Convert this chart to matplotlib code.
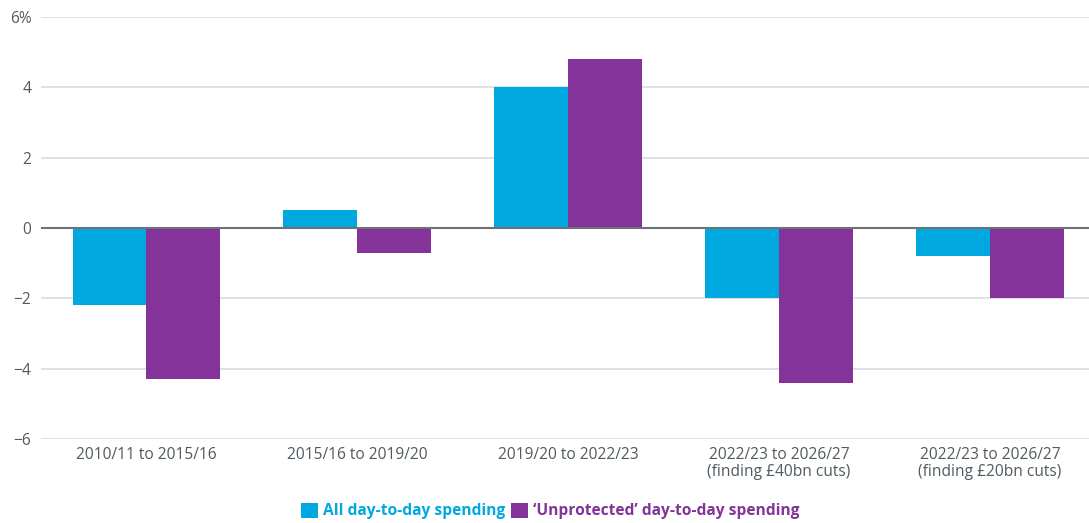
import numpy as np
import matplotlib.pyplot as plt
from matplotlib.ticker import FuncFormatter

plt.rcParams['font.family'] = ['Open Sans', 'DejaVu Sans']

categories = ['2010/11 to 2015/16', '2015/16 to 2019/20', '2019/20 to 2022/23',
              '2022/23 to 2026/27\n(finding £40bn cuts)',
              '2022/23 to 2026/27\n(finding £20bn cuts)']
all_spending = [-2.2, 0.5, 4.0, -2.0, -0.8]
unprotected = [-4.3, -0.7, 4.8, -4.4, -2.0]

blue = '#00a8e0'
purple = '#833399'
grey_text = '#505a5f'

fig = plt.figure(figsize=(10.89, 5.23), dpi=100)
ax = fig.add_axes([41 / 1089, 84 / 523, 1 - 41 / 1089, 422 / 523])

x = np.arange(len(categories))
w = 0.35
ax.bar(x - w / 2, all_spending, w, color=blue, label='All day-to-day spending', zorder=2)
ax.bar(x + w / 2, unprotected, w, color=purple, label='\u2018Unprotected\u2019 day-to-day spending', zorder=2)

ax.set_ylim(-6, 6)
ax.set_xlim(-0.5, 4.47)
ax.set_yticks([-6, -4, -2, 0, 2, 4, 6])
ax.yaxis.set_major_formatter(FuncFormatter(
    lambda v, p: '6%' if v == 6 else ('\u2212' + str(int(abs(v))) if v < 0 else str(int(v)))))
ax.grid(axis='y', color='#dcdae6', linewidth=1.2, zorder=0)
ax.axhline(0, color='#6e7275', linewidth=1.5, zorder=3)

ax.set_xticks(x)
ax.set_xticklabels(categories, fontsize=11.2, color=grey_text, linespacing=1.05)
ax.tick_params(axis='both', length=0, labelsize=11.2, labelcolor=grey_text)
ax.tick_params(axis='x', pad=6)
ax.tick_params(axis='y', pad=7)
for s in ax.spines.values():
    s.set_visible(False)

leg = fig.legend(loc='center', bbox_to_anchor=(550 / 1089, 12 / 523), ncol=2, frameon=False,
                 handlelength=1.1, handleheight=1.1, handletextpad=0.3, columnspacing=0.4,
                 labelcolor='linecolor', prop={'weight': 'bold', 'size': 11.2})

fig.savefig('out.png', dpi=100)
